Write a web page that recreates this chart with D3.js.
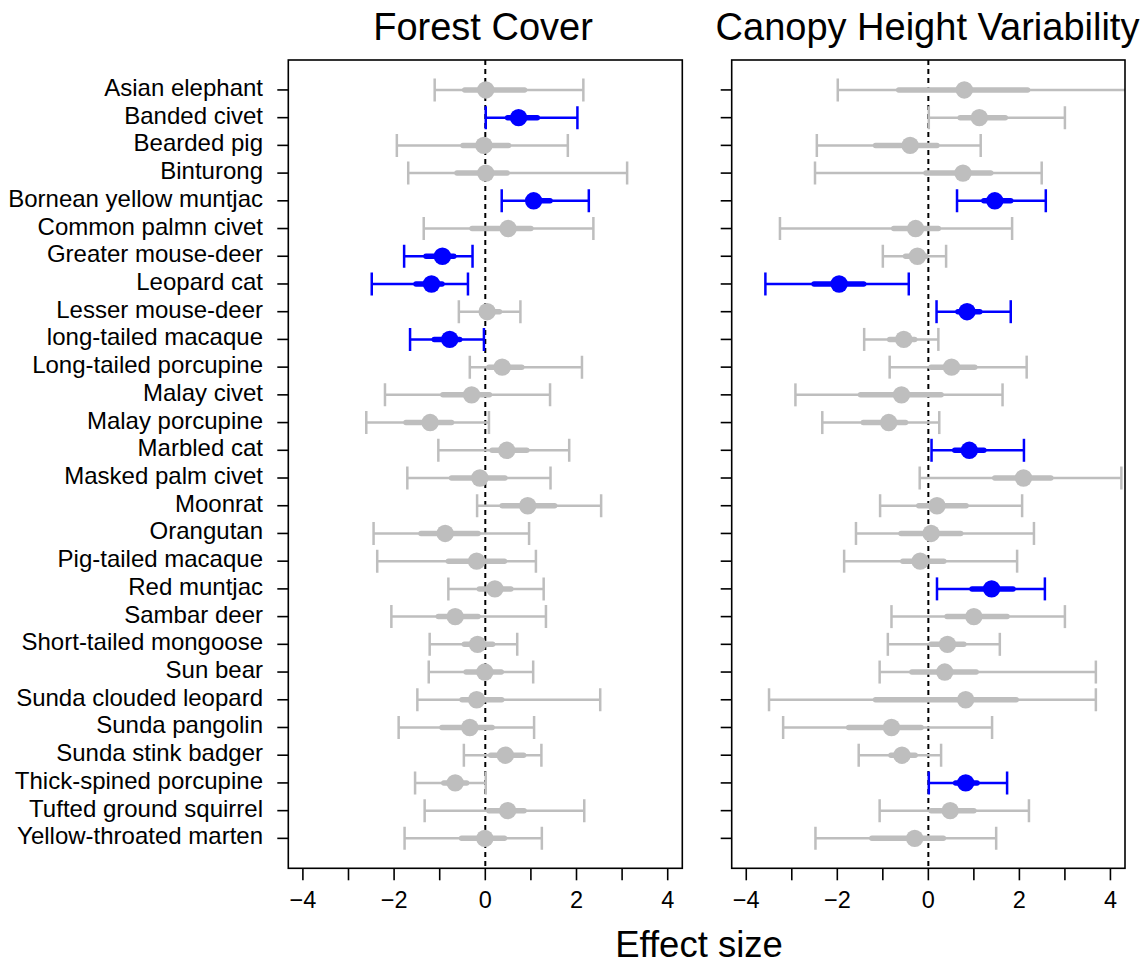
<!DOCTYPE html>
<html>
<head>
<meta charset="utf-8">
<script src="https://cdn.jsdelivr.net/npm/d3@7"></script>
<style>
  html, body { margin: 0; padding: 0; background: #fff; }
  svg text { font-family: "Liberation Sans", Arial, Helvetica, sans-serif; fill: #000; }
</style>
</head>
<body>
<svg id="chart" width="1146" height="966"></svg>
<script>
const species = ["Asian elephant","Banded civet","Bearded pig","Binturong","Bornean yellow muntjac","Common palmn civet","Greater mouse-deer","Leopard cat","Lesser mouse-deer","long-tailed macaque","Long-tailed porcupine","Malay civet","Malay porcupine","Marbled cat","Masked palm civet","Moonrat","Orangutan","Pig-tailed macaque","Red muntjac","Sambar deer","Short-tailed mongoose","Sun bear","Sunda clouded leopard","Sunda pangolin","Sunda stink badger","Thick-spined porcupine","Tufted ground squirrel","Yellow-throated marten"];

// Forest Cover
const fcMean  = [0.01,0.73,-0.03,0.01,1.06,0.50,-0.94,-1.18,0.04,-0.78,0.37,-0.30,-1.21,0.47,-0.12,0.93,-0.88,-0.19,0.21,-0.66,-0.17,-0.01,-0.19,-0.34,0.44,-0.66,0.49,-0.01];
const fcLo    = [-1.11,0.01,-1.94,-1.69,0.36,-1.35,-1.78,-2.49,-0.58,-1.65,-0.34,-2.20,-2.61,-1.03,-1.71,-0.18,-2.45,-2.37,-0.81,-2.06,-1.22,-1.24,-1.49,-1.90,-0.47,-1.54,-1.33,-1.77];
const fcHi    = [2.15,2.02,1.81,3.11,2.27,2.37,-0.28,-0.38,0.77,-0.03,2.12,1.42,0.08,1.84,1.43,2.54,0.96,1.11,1.28,1.33,0.70,1.05,2.52,1.07,1.23,0.01,2.17,1.24];
const fcLo50  = [-0.45,0.49,-0.49,-0.62,0.96,-0.29,-1.30,-1.52,-0.07,-1.12,0.08,-0.93,-1.74,0.15,-0.74,0.37,-1.41,-0.81,-0.13,-1.03,-0.46,-0.42,-0.51,-0.95,0.12,-0.91,0.08,-0.52];
const fcHi50  = [0.86,1.14,0.51,0.48,1.42,1.00,-0.69,-0.95,0.31,-0.56,0.80,0.09,-0.74,0.91,0.43,1.52,-0.16,0.42,0.56,-0.16,0.16,0.35,0.36,0.15,0.84,-0.41,0.85,0.42];
const fcSig   = [0,1,0,0,1,0,1,1,0,1,0,0,0,0,0,0,0,0,0,0,0,0,0,0,0,0,0,0];

// Canopy Height Variability
const chMean  = [0.79,1.12,-0.40,0.76,1.46,-0.28,-0.24,-1.96,0.85,-0.54,0.51,-0.59,-0.87,0.90,2.09,0.19,0.06,-0.18,1.39,1.00,0.42,0.36,0.82,-0.81,-0.58,0.82,0.48,-0.30];
const chLo    = [-1.99,0.01,-2.45,-2.49,0.63,-3.26,-1.00,-3.58,0.18,-1.41,-0.85,-2.92,-2.33,0.07,-0.19,-1.06,-1.59,-1.85,0.19,-0.81,-0.89,-1.07,-3.50,-3.19,-1.53,0.01,-1.07,-2.48];
const chHi    = [4.60,3.00,1.15,2.49,2.58,1.84,0.39,-0.43,1.81,0.22,2.16,1.63,0.24,2.10,4.24,2.06,2.32,1.95,2.56,3.00,1.57,3.68,3.68,1.40,0.28,1.73,2.21,1.49];
const chLo50  = [-0.65,0.70,-1.16,-0.05,1.22,-0.76,-0.50,-2.51,0.65,-0.85,0.06,-1.49,-1.43,0.58,1.46,-0.21,-0.60,-0.56,0.96,0.41,0.06,-0.36,-1.16,-1.75,-0.82,0.60,0.06,-1.24];
const chHi50  = [2.18,1.69,0.19,1.37,1.81,0.22,-0.05,-1.42,1.13,-0.30,1.02,0.28,-0.50,1.22,2.69,0.83,0.71,0.34,1.86,1.73,0.78,1.05,1.93,-0.16,-0.29,1.07,1.00,0.33];
const chSig   = [0,0,0,0,1,0,0,1,1,0,0,0,0,1,0,0,0,0,1,0,0,0,0,0,0,1,0,0];

const xTicks = [-4,-3,-2,-1,0,1,2,3,4];
const xTickLabels = [-4,-2,0,2,4];
const titles = ["Forest Cover", "Canopy Height Variability"];
const xLabel = "Effect size";

const svg = d3.select("#chart");
const GRAY = "#BEBEBE", BLUE = "#0000FF";
const yTop = 60, yBot = 868.3;
const y = d3.scaleLinear().domain([-0.08, 29.08]).range([yTop, yBot]);

const panels = [
  {x0: 288.3, x1: 682.3, tx: 483, title: titles[0], mean: fcMean, lo: fcLo, hi: fcHi, lo50: fcLo50, hi50: fcHi50, sig: fcSig, labels: true},
  {x0: 731.7, x1: 1125.0, tx: 927.5, title: titles[1], mean: chMean, lo: chLo, hi: chHi, lo50: chLo50, hi50: chHi50, sig: chSig, labels: false}
];

panels.forEach((p, pi) => {
  const x = d3.scaleLinear().domain([-4.32, 4.32]).range([p.x0, p.x1]);
  const g = svg.append("g");
  const clipId = "clip" + pi;
  svg.append("clipPath").attr("id", clipId).append("rect")
    .attr("x", p.x0).attr("y", yTop).attr("width", p.x1 - p.x0).attr("height", yBot - yTop);

  const plot = g.append("g").attr("clip-path", `url(#${clipId})`);

  // zero line
  plot.append("line")
    .attr("x1", x(0)).attr("x2", x(0)).attr("y1", yTop).attr("y2", yBot)
    .attr("stroke", "#000").attr("stroke-width", 2).attr("stroke-dasharray", "5,4");

  const data = species.map((s, i) => ({
    s, i: i + 1, m: p.mean[i], lo: p.lo[i], hi: p.hi[i], lo50: p.lo50[i], hi50: p.hi50[i],
    col: p.sig[i] ? BLUE : GRAY
  }));

  const rows = plot.selectAll("g.row").data(data).join("g").attr("class", "row");
  rows.append("line")
    .attr("x1", d => x(d.lo)).attr("x2", d => x(d.hi))
    .attr("y1", d => y(d.i)).attr("y2", d => y(d.i))
    .attr("stroke", d => d.col).attr("stroke-width", 2.5);
  rows.append("line")
    .attr("x1", d => x(d.lo)).attr("x2", d => x(d.lo))
    .attr("y1", d => y(d.i) - 11.5).attr("y2", d => y(d.i) + 11.5)
    .attr("stroke", d => d.col).attr("stroke-width", 2.5);
  rows.append("line")
    .attr("x1", d => x(d.hi)).attr("x2", d => x(d.hi))
    .attr("y1", d => y(d.i) - 11.5).attr("y2", d => y(d.i) + 11.5)
    .attr("stroke", d => d.col).attr("stroke-width", 2.5);
  rows.append("line")
    .attr("x1", d => x(d.lo50)).attr("x2", d => x(d.hi50))
    .attr("y1", d => y(d.i)).attr("y2", d => y(d.i))
    .attr("stroke", d => d.col).attr("stroke-width", 5.5).attr("stroke-linecap", "round");
  rows.append("circle")
    .attr("cx", d => x(d.m)).attr("cy", d => y(d.i)).attr("r", 8.7)
    .attr("fill", d => d.col);

  // box
  g.append("rect").attr("x", p.x0).attr("y", yTop).attr("width", p.x1 - p.x0).attr("height", yBot - yTop)
    .attr("fill", "none").attr("stroke", "#000").attr("stroke-width", 1.6);

  // y ticks
  g.selectAll("line.yt").data(data).join("line").attr("class", "yt")
    .attr("x1", p.x0 - 11).attr("x2", p.x0).attr("y1", d => y(d.i)).attr("y2", d => y(d.i))
    .attr("stroke", "#000").attr("stroke-width", 1.6);
  if (p.labels) {
    g.selectAll("text.yl").data(data).join("text").attr("class", "yl")
      .attr("x", 263).attr("y", d => y(d.i) + 6)
      .attr("text-anchor", "end").attr("font-size", 24)
      .text(d => d.s);
  }

  // x axis
  g.selectAll("line.xt").data(xTicks).join("line").attr("class", "xt")
    .attr("x1", d => x(d)).attr("x2", d => x(d)).attr("y1", yBot).attr("y2", yBot + 12)
    .attr("stroke", "#000").attr("stroke-width", 1.6);
  g.selectAll("text.xl").data(xTickLabels).join("text").attr("class", "xl")
    .attr("x", d => x(d)).attr("y", 907.5)
    .attr("text-anchor", "middle").attr("font-size", 23.5)
    .text(d => d < 0 ? "\u2212" + Math.abs(d) : String(d));

  // title
  g.append("text").attr("x", p.tx).attr("y", 39.5)
    .attr("text-anchor", "middle").attr("font-size", 38).text(p.title);
});

svg.append("text").attr("x", 699).attr("y", 957).attr("text-anchor", "middle")
  .attr("font-size", 36.5).text(xLabel);
</script>
</body>
</html>
